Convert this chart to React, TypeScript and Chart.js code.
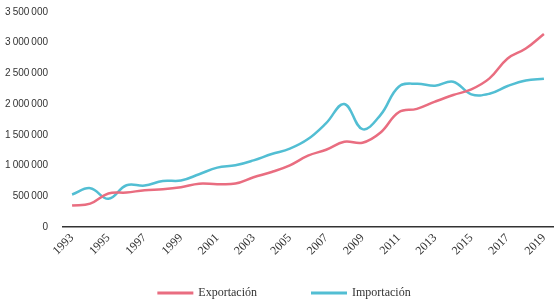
import React, { useEffect, useRef } from "react";
import { Chart, registerables } from "chart.js";

Chart.register(...registerables);

const years = [
  "1993", "1994", "1995", "1996", "1997", "1998", "1999", "2000", "2001", "2002",
  "2003", "2004", "2005", "2006", "2007", "2008", "2009", "2010", "2011", "2012",
  "2013", "2014", "2015", "2016", "2017", "2018", "2019",
];

const exportacion = [
  350000, 380000, 545000, 560000, 600000, 615000, 648000, 705000, 697000, 707000,
  810000, 896000, 1004000, 1161000, 1258000, 1388000, 1372000, 1539000, 1868000, 1923000,
  2041000, 2149000, 2241000, 2419000, 2743000, 2905000, 3143000,
];

const importacion = [
  529000, 632000, 459000, 680000, 675000, 750000, 756000, 859000, 967000, 1004000,
  1085000, 1188000, 1275000, 1431000, 1690000, 2003000, 1593000, 1825000, 2284000, 2333000,
  2300000, 2365000, 2160000, 2170000, 2295000, 2386000, 2414000,
];

const yTicks = [0, 500000, 1000000, 1500000, 2000000, 2500000, 3000000, 3500000];

const PINK = "#E96D80";
const CYAN = "#52BED3";
const SERIF = "'Liberation Serif', serif";

function fmt(v: number): string {
  return String(v).replace(/\B(?=(\d{3})+(?!\d))/g, "\u2009");
}

const customLegend = {
  id: "customLegend",
  afterDraw(chart: any) {
    const ctx = chart.ctx;
    const ds = chart.data.datasets;
    ctx.save();
    ctx.font = `12px ${SERIF}`;
    ctx.textBaseline = "middle";
    const boxW = 36;
    const gapBox = 5;
    const gapItem = 54;
    const widths = ds.map((d: any) => boxW + gapBox + ctx.measureText(d.label).width);
    const total = widths.reduce((a: number, b: number) => a + b, 0) + gapItem * (ds.length - 1);
    let x = 284 - total / 2;
    const y = 293;
    ds.forEach((d: any, i: number) => {
      ctx.fillStyle = d.borderColor;
      ctx.fillRect(x, y - 1.5, boxW, 3);
      ctx.fillStyle = "#333";
      ctx.textAlign = "left";
      ctx.fillText(d.label, x + boxW + gapBox, y);
      x += widths[i] + gapItem;
    });
    ctx.restore();
  },
};

export default function App() {
  const ref = useRef<HTMLCanvasElement>(null);
  useEffect(() => {
    if (!ref.current) return;
    const chart = new Chart(ref.current, {
      type: "line",
      data: {
        labels: years,
        datasets: [
          {
            label: "Exportación",
            data: exportacion,
            borderColor: PINK,
            backgroundColor: PINK,
            borderWidth: 2.5,
            pointRadius: 0,
            tension: 0.4,
            fill: false,
          },
          {
            label: "Importación",
            data: importacion,
            borderColor: CYAN,
            backgroundColor: CYAN,
            borderWidth: 2.5,
            pointRadius: 0,
            tension: 0.4,
            fill: false,
          },
        ],
      },
      plugins: [customLegend],
      options: {
        animation: false,
        responsive: false,
        maintainAspectRatio: false,
        layout: { padding: { top: 12, right: 4, left: 5, bottom: 48 } },
        plugins: {
          tooltip: { enabled: false },
          legend: { display: false },
        },
        scales: {
          x: {
            offset: true,
            grid: { display: false, drawTicks: false },
            border: { display: true, color: "#333", width: 1.5 },
            afterFit: (s: any) => {
              s.height = 30;
              s.paddingLeft = 0;
              s.paddingRight = 0;
            },
            ticks: {
              autoSkip: false,
              maxRotation: 45,
              minRotation: 45,
              padding: 4,
              color: "#333",
              font: { family: SERIF, size: 12 },
              callback: (_v: any, i: number) => (i % 2 === 0 ? years[i] : ""),
            },
          },
          y: {
            min: 0,
            max: 3500000,
            afterBuildTicks: (axis: any) => {
              axis.ticks = yTicks.map((v) => ({ value: v }));
            },
            afterFit: (s: any) => {
              s.width = 58;
              s.paddingTop = 0;
              s.paddingBottom = 0;
            },
            grid: { display: false, drawTicks: false },
            border: { display: false },
            ticks: {
              padding: 15,
              color: "#333",
              font: { family: "'Liberation Sans', sans-serif", size: 10 },
              callback: (v: any) => fmt(Number(v)),
            },
          },
        },
      },
    });
    return () => chart.destroy();
  }, []);
  return (
    <div style={{ position: "fixed", left: 0, top: 0, width: 557, height: 305, background: "#fff" }}>
      <canvas ref={ref} width={557} height={305} style={{ width: 557, height: 305 }} />
    </div>
  );
}
